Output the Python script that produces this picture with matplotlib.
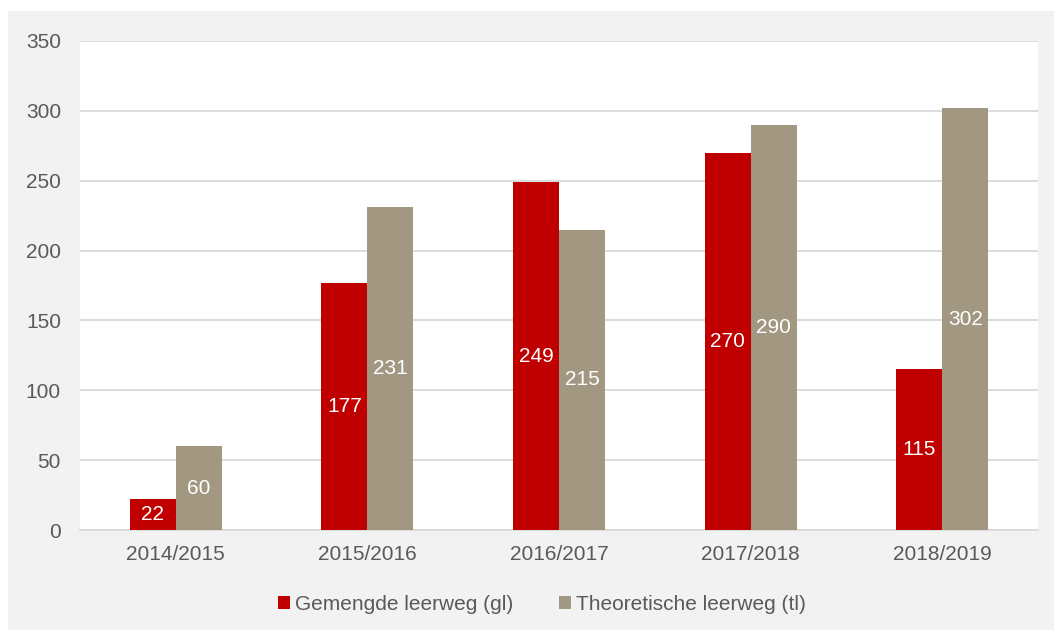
import matplotlib
matplotlib.use("Agg")
import matplotlib.pyplot as plt
from matplotlib.patches import Rectangle, Patch
import numpy as np

categories = ["2014/2015", "2015/2016", "2016/2017", "2017/2018", "2018/2019"]
gl_values = [22, 177, 249, 270, 115]
tl_values = [60, 231, 215, 290, 302]
series_names = ["Gemengde leerweg (gl)", "Theoretische leerweg (tl)"]
y_ticks = [0, 50, 100, 150, 200, 250, 300, 350]

RED = "#C00000"
TAN = "#A29882"
TXT = "#595959"
GRID = "#D9D9D9"
FS = 15

plt.rcParams["font.family"] = ["Liberation Sans", "DejaVu Sans"]

W, H = 1054, 630
fig = plt.figure(figsize=(W / 100, H / 100), dpi=100)
fig.patch.set_facecolor("white")
fig.add_artist(Rectangle((8 / W, 0), 1 - 8 / W, 1 - 11 / H, transform=fig.transFigure,
                         facecolor="#F2F2F2", edgecolor="none", zorder=-10))

ax = fig.add_axes([80 / W, 1 - 530 / H, (1038 - 80) / W, (530 - 41) / H])
ax.set_facecolor("white")

x = np.arange(len(categories))
bw = 0.24
ax.bar(x - bw / 2, gl_values, bw, color=RED, zorder=3)
ax.bar(x + bw / 2, tl_values, bw, color=TAN, zorder=3)

for xi, v in zip(x - bw / 2, gl_values):
    ax.text(xi, v / 2, str(v), ha="center", va="center", color="white", fontsize=FS, zorder=4)
for xi, v in zip(x + bw / 2, tl_values):
    ax.text(xi, v / 2, str(v), ha="center", va="center", color="white", fontsize=FS, zorder=4)

ax.set_xlim(-0.5, len(categories) - 0.5)
ax.set_ylim(0, 350)
ax.set_yticks(y_ticks)
ax.set_xticks(x)
ax.set_xticklabels(categories)
ax.yaxis.grid(True, color=GRID, linewidth=1.3, zorder=0)
ax.set_axisbelow(True)
for s in ["top", "right", "left"]:
    ax.spines[s].set_visible(False)
ax.spines["bottom"].set_color(GRID)
ax.spines["bottom"].set_linewidth(1.3)
ax.tick_params(axis="both", length=0, labelsize=FS, colors=TXT)
ax.tick_params(axis="y", pad=13.7)
ax.tick_params(axis="x", pad=10.5)

handles = [Patch(facecolor=RED), Patch(facecolor=TAN)]
fig.legend(handles, series_names, loc="center", bbox_to_anchor=(542 / W, 1 - 604 / H),
           ncol=2, frameon=False, fontsize=FS, labelcolor=TXT,
           handlelength=0.58, handleheight=0.58, handletextpad=0.25, columnspacing=2.2)

fig.savefig("out.png", dpi=100)
